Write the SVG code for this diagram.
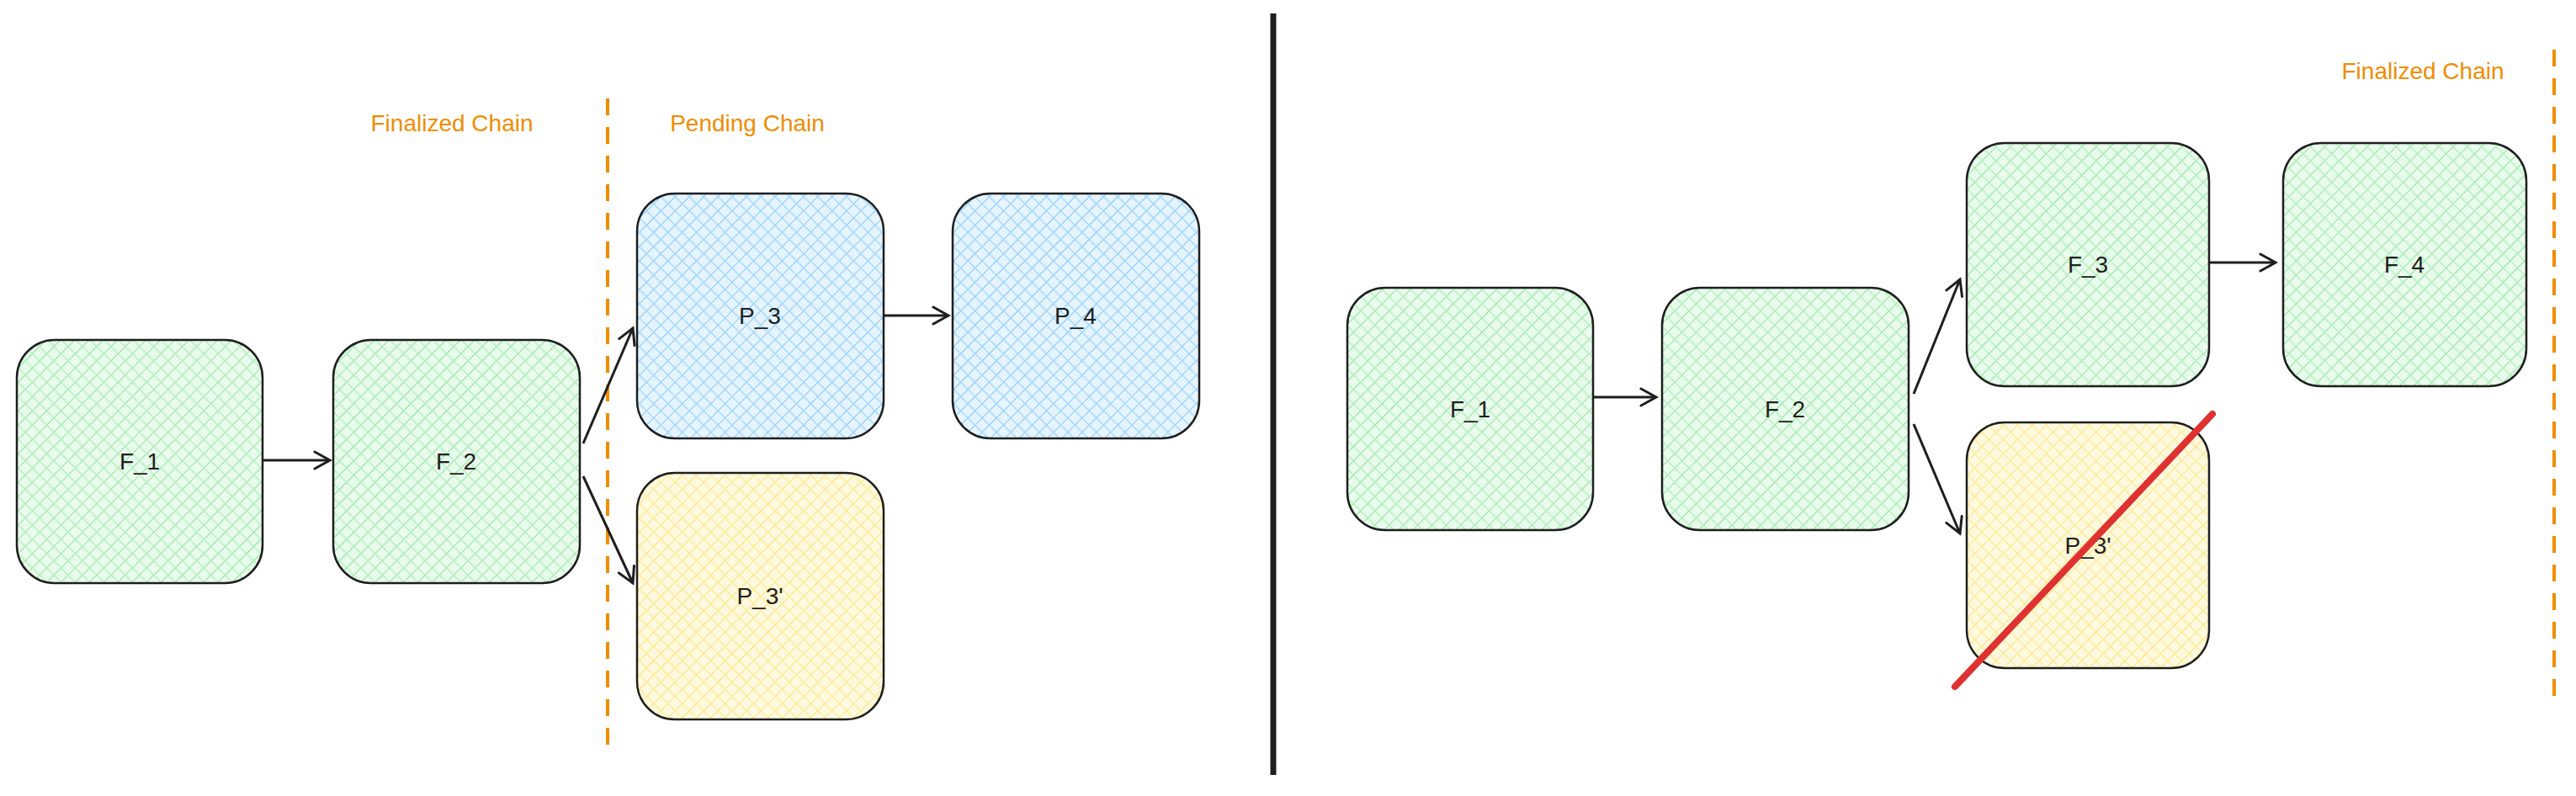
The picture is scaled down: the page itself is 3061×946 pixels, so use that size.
<svg xmlns="http://www.w3.org/2000/svg" width="3061" height="946" viewBox="0 0 3061 946">
<defs>
<pattern id="hg" width="12" height="12" patternUnits="userSpaceOnUse" patternTransform="rotate(45)"><rect width="12" height="12" fill="#e9fbec"/><line x1="0" y1="0" x2="0" y2="12" stroke="#8fe09c" stroke-width="2"/><line x1="0" y1="6" x2="12" y2="6" stroke="#b2f2bb" stroke-width="1.5"/></pattern>
<pattern id="hb" width="12" height="12" patternUnits="userSpaceOnUse" patternTransform="rotate(45)"><rect width="12" height="12" fill="#e6f4ff"/><line x1="0" y1="0" x2="0" y2="12" stroke="#82c6fb" stroke-width="2"/><line x1="0" y1="6" x2="12" y2="6" stroke="#a5d8ff" stroke-width="1.5"/></pattern>
<pattern id="hy" width="12" height="12" patternUnits="userSpaceOnUse" patternTransform="rotate(45)"><rect width="12" height="12" fill="#fff9df"/><line x1="0" y1="0" x2="0" y2="12" stroke="#fde27a" stroke-width="2"/><line x1="0" y1="6" x2="12" y2="6" stroke="#ffec99" stroke-width="1.5"/></pattern>
<marker id="ar" markerWidth="24" markerHeight="24" refX="20" refY="12" orient="auto" markerUnits="userSpaceOnUse"><path d="M2,2 L20,12 L2,22" fill="none" stroke="#1e1e1e" stroke-width="3" stroke-linecap="round"/></marker>
</defs>
<style>
.n{stroke:#1e1e1e;stroke-width:2.5}
.t{font-family:"Liberation Sans",Arial,sans-serif;font-size:28px;fill:#1e1e1e;text-anchor:middle;dominant-baseline:central}
.o{font-family:"Liberation Sans",Arial,sans-serif;font-size:28px;fill:#f08c00;text-anchor:middle;dominant-baseline:central}
.c{stroke:#1e1e1e;stroke-width:3;fill:none;marker-end:url(#ar)}
.d{stroke:#f08c00;stroke-width:4;stroke-dasharray:20 14;fill:none}
</style>
<rect width="3061" height="946" fill="#fff"/>
<g id="lines">
<line class="d" x1="722" y1="117" x2="722" y2="898"/>
<line class="d" x1="3035" y1="59" x2="3035" y2="830"/>
<line x1="1513" y1="16" x2="1513" y2="921" stroke="#1e1e1e" stroke-width="7"/>
</g>
<text class="o" x="537" y="146">Finalized Chain</text>
<text class="o" x="888" y="146">Pending Chain</text>
<text class="o" x="2879" y="84">Finalized Chain</text>
<g id="L_F1"><rect class="n" x="20" y="404" width="292" height="289" rx="45" fill="url(#hg)"/><text class="t" x="166" y="548">F_1</text></g>
<g id="L_F2"><rect class="n" x="396" y="404" width="293" height="289" rx="45" fill="url(#hg)"/><text class="t" x="542" y="548">F_2</text></g>
<g id="L_P3"><rect class="n" x="757" y="230" width="293" height="291" rx="45" fill="url(#hb)"/><text class="t" x="903" y="375">P_3</text></g>
<g id="L_P4"><rect class="n" x="1132" y="230" width="293" height="291" rx="45" fill="url(#hb)"/><text class="t" x="1278" y="375">P_4</text></g>
<g id="L_P3p"><rect class="n" x="757" y="562" width="293" height="293" rx="45" fill="url(#hy)"/><text class="t" x="903" y="708">P_3'</text></g>
<g id="R_F1"><rect class="n" x="1601" y="342" width="292" height="288" rx="45" fill="url(#hg)"/><text class="t" x="1747" y="486">F_1</text></g>
<g id="R_F2"><rect class="n" x="1975" y="342" width="293" height="288" rx="45" fill="url(#hg)"/><text class="t" x="2121" y="486">F_2</text></g>
<g id="R_F3"><rect class="n" x="2337" y="170" width="288" height="289" rx="45" fill="url(#hg)"/><text class="t" x="2481" y="314">F_3</text></g>
<g id="R_F4"><rect class="n" x="2713" y="170" width="289" height="289" rx="45" fill="url(#hg)"/><text class="t" x="2857" y="314">F_4</text></g>
<g id="R_P3p"><rect class="n" x="2337" y="502" width="288" height="292" rx="45" fill="url(#hy)"/><text class="t" x="2481" y="648">P_3'</text></g>
<g id="connectors">
<line class="c" x1="312" y1="547" x2="392" y2="547"/>
<line class="c" x1="693" y1="527" x2="752" y2="390"/>
<line class="c" x1="693" y1="566" x2="752" y2="693"/>
<line class="c" x1="1050" y1="375" x2="1127" y2="375"/>
<line class="c" x1="1893" y1="472" x2="1968" y2="472"/>
<line class="c" x1="2274" y1="468" x2="2329" y2="332"/>
<line class="c" x1="2274" y1="504" x2="2329" y2="634"/>
<line class="c" x1="2625" y1="312" x2="2704" y2="312"/>
</g>
<line x1="2323" y1="816" x2="2629" y2="492" stroke="#e03131" stroke-width="8" stroke-linecap="round"/>
</svg>
